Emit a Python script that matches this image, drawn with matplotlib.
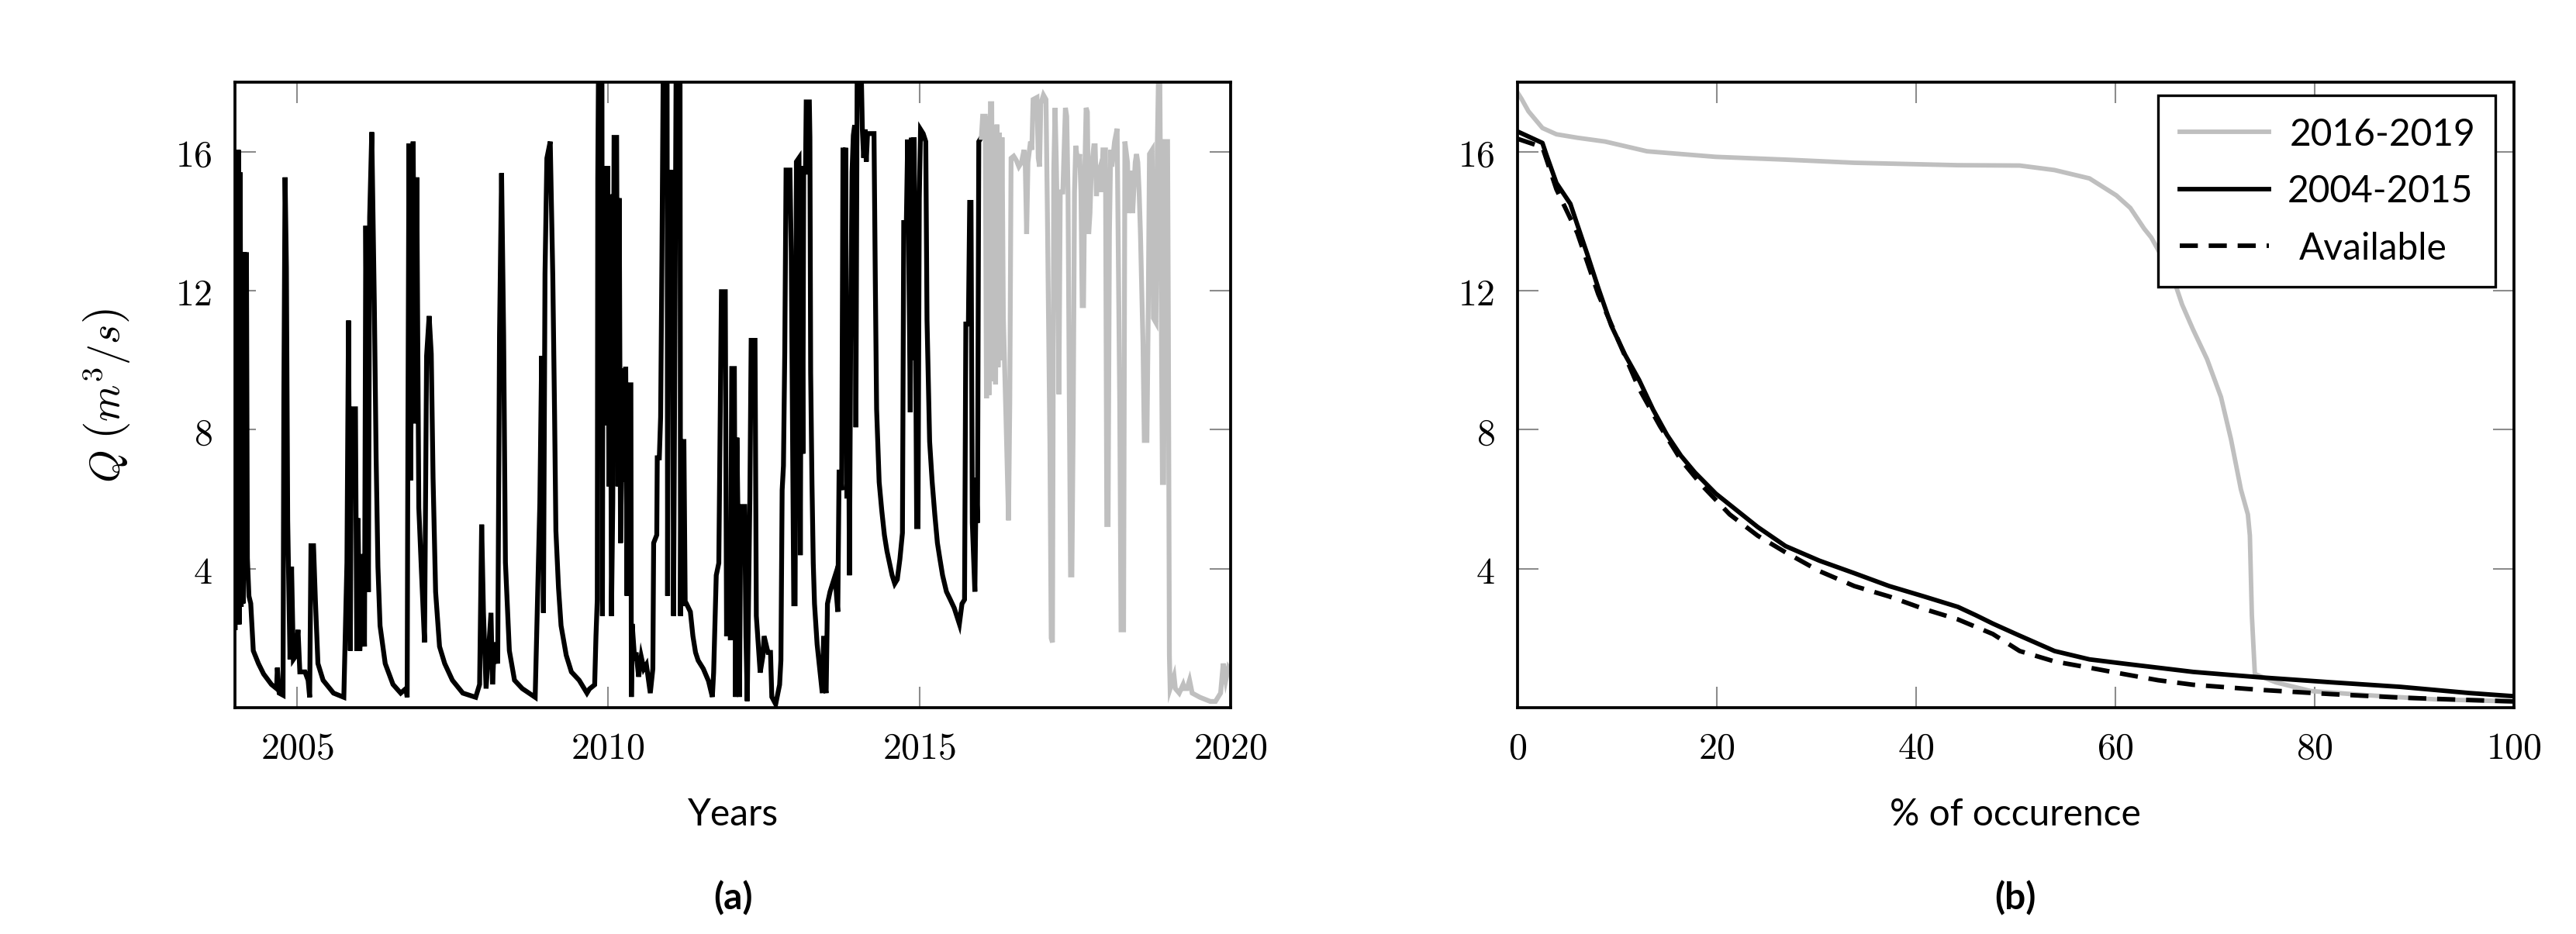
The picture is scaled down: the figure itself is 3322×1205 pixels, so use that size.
import matplotlib
matplotlib.use('Agg')
import matplotlib.pyplot as plt

# (a) daily discharge, decimal years vs m3/s
obs_year = [2004.004, 2004.025, 2004.040, 2004.055, 2004.070, 2004.085, 2004.100, 2004.115, 2004.130, 2004.150,
            2004.170, 2004.185, 2004.200, 2004.225, 2004.254, 2004.295, 2004.378, 2004.461, 2004.586, 2004.669,
            2004.682, 2004.711, 2004.773, 2004.786, 2004.806, 2004.827, 2004.848, 2004.885, 2004.910, 2004.939,
            2004.981, 2005.014, 2005.043, 2005.126, 2005.176, 2005.201, 2005.222, 2005.263, 2005.293, 2005.334,
            2005.417, 2005.584, 2005.750, 2005.800, 2005.825, 2005.854, 2005.874, 2005.937, 2005.958, 2005.978,
            2006.007, 2006.041, 2006.082, 2006.103, 2006.145, 2006.165, 2006.199, 2006.240, 2006.269, 2006.298,
            2006.332, 2006.415, 2006.540, 2006.664, 2006.747, 2006.768, 2006.780, 2006.797, 2006.822, 2006.864,
            2006.893, 2006.922, 2006.955, 2006.997, 2007.047, 2007.080, 2007.121, 2007.155, 2007.184, 2007.225,
            2007.288, 2007.371, 2007.495, 2007.662, 2007.869, 2007.932, 2007.965, 2007.994, 2008.036, 2008.115,
            2008.140, 2008.169, 2008.223, 2008.252, 2008.285, 2008.318, 2008.347, 2008.410, 2008.493, 2008.618,
            2008.825, 2008.900, 2008.929, 2008.958, 2008.983, 2009.013, 2009.067, 2009.108, 2009.137, 2009.158,
            2009.200, 2009.241, 2009.324, 2009.407, 2009.532, 2009.657,
            2009.698, 2009.781, 2009.802, 2009.823, 2009.831, 2009.843, 2009.898, 2009.906, 2009.914, 2009.927,
            2009.947, 2009.968, 2009.989, 2010.010, 2010.030, 2010.051, 2010.072, 2010.093, 2010.134, 2010.155,
            2010.176, 2010.197, 2010.218, 2010.238, 2010.259, 2010.280, 2010.301, 2010.321, 2010.363, 2010.371,
            2010.384, 2010.425, 2010.446, 2010.488, 2010.529, 2010.571, 2010.612, 2010.675, 2010.716, 2010.729,
            2010.779, 2010.787, 2010.820, 2010.841, 2010.862, 2010.883, 2010.945, 2010.953, 2010.966, 2011.007,
            2011.028, 2011.049, 2011.070, 2011.090, 2011.153, 2011.161, 2011.173, 2011.215, 2011.236, 2011.257,
            2011.319, 2011.360, 2011.402, 2011.444, 2011.527, 2011.610, 2011.672, 2011.693, 2011.735, 2011.776,
            2011.818, 2011.880, 2011.901, 2011.942, 2011.963, 2011.984, 2012.026, 2012.046, 2012.067, 2012.088,
            2012.109, 2012.129, 2012.192, 2012.212, 2012.233, 2012.275, 2012.296, 2012.358, 2012.379, 2012.441,
            2012.483, 2012.504, 2012.566, 2012.607, 2012.628, 2012.690, 2012.753, 2012.774, 2012.794, 2012.815,
            2012.836, 2012.857, 2012.919, 2012.940, 2012.981, 2013.002, 2013.023, 2013.065,
            2013.086, 2013.107, 2013.127, 2013.140, 2013.169, 2013.181, 2013.231, 2013.240, 2013.252, 2013.273,
            2013.294, 2013.314, 2013.356, 2013.398, 2013.439, 2013.460, 2013.481, 2013.501, 2013.522, 2013.564,
            2013.605, 2013.647, 2013.668, 2013.688, 2013.709, 2013.730, 2013.751, 2013.772, 2013.792, 2013.813,
            2013.834, 2013.855, 2013.875, 2013.896, 2013.917, 2013.938, 2013.959, 2013.979, 2014.000, 2014.063,
            2014.083, 2014.104, 2014.125, 2014.146, 2014.166, 2014.270, 2014.291, 2014.312, 2014.353, 2014.395,
            2014.437, 2014.478, 2014.520, 2014.561, 2014.603, 2014.644, 2014.686, 2014.727, 2014.748, 2014.790,
            2014.811, 2014.853, 2014.873, 2014.894, 2014.915, 2014.935, 2014.956, 2014.977, 2014.998, 2015.018,
            2015.060, 2015.102, 2015.122, 2015.164, 2015.205, 2015.247, 2015.289, 2015.330, 2015.372, 2015.434,
            2015.496, 2015.559, 2015.600, 2015.642, 2015.684, 2015.725, 2015.746, 2015.787, 2015.808, 2015.829,
            2015.850, 2015.891, 2015.912, 2015.933, 2015.954, 2015.974, 2015.995]
obs_q = [2.30, 16.0, 2.40, 16.05, 2.40, 15.4, 2.90, 13.1, 3.00, 13.1,
         6.70, 13.1, 4.30, 3.21, 3.00, 1.64, 1.27, 0.97, 0.67, 0.55,
         1.15, 0.42, 0.36, 8.90, 15.26, 12.66, 5.39, 1.39, 4.06, 1.39,
         1.50, 2.24, 1.03, 1.03, 0.79, 0.30, 4.66, 4.66, 3.09, 1.27,
         0.79, 0.42, 0.30, 4.18, 11.14, 1.64, 8.60, 8.60, 1.64, 5.45,
         1.64, 4.42, 1.76, 13.87, 3.33, 14.11, 16.56, 11.63, 7.21, 4.06,
         2.36, 1.27, 0.67, 0.42, 0.55, 0.30, 8.00, 16.23, 6.54, 16.29,
         8.18, 15.26, 5.75, 3.94, 1.88, 10.12, 11.27, 10.18, 6.60, 3.33,
         1.76, 1.27, 0.79, 0.42, 0.30, 0.67, 5.27, 2.73, 0.55, 2.73,
         0.67, 1.88, 1.27, 10.72, 15.38, 10.72, 4.18, 1.64, 0.79, 0.55,
         0.30, 5.88, 10.12, 2.73, 12.48, 15.81, 16.29, 12.42, 8.42, 5.09,
         3.45, 2.36, 1.51, 1.03, 0.79, 0.42,
         0.54, 0.66, 2.06, 3.11, 15.24, 18.5, 18.5, 2.64, 12.56, 8.12,
         15.59, 10.46, 15.59, 6.37, 14.77, 2.64, 5.91, 16.41, 16.41, 6.37,
         14.66, 4.74, 7.66, 9.76, 6.50, 9.81, 3.22, 9.29, 9.29, 0.31,
         2.41, 1.36, 1.59, 0.89, 1.47, 1.12, 1.24, 0.42, 1.12, 4.74,
         4.97, 7.19, 7.19, 8.36, 12.91, 18.5, 18.5, 3.22, 15.01, 15.47,
         14.66, 2.64, 10.46, 18.5, 18.5, 2.64, 7.66, 7.66, 2.99, 2.99,
         2.76, 2.06, 1.59, 1.36, 1.12, 0.77, 0.31, 1.01, 3.81, 4.16,
         11.97, 11.97, 2.06, 4.51, 1.94, 9.76, 9.76, 0.31, 7.77, 4.97,
         0.31, 5.79, 5.79, 2.06, 0.19, 6.02, 10.57, 10.57, 2.64, 1.01,
         1.47, 2.06, 1.59, 1.59, 0.31, 0.10, 0.66, 1.36, 6.26, 6.96,
         10.22, 15.47, 15.47, 13.14, 2.99, 2.99, 15.71, 15.82,
         4.39, 15.59, 7.31, 15.41, 15.41, 17.43, 17.43, 16.41, 9.64, 6.49,
         4.16, 2.99, 1.82, 1.12, 0.42, 2.06, 0.66, 0.42, 2.99, 3.34,
         3.57, 3.81, 3.22, 2.76, 6.78, 6.78, 6.26, 16.11, 8.00, 16.11,
         6.02, 11.16, 3.81, 11.04, 15.41, 16.47, 16.76, 8.07, 18.5, 18.5,
         16.64, 15.82, 16.64, 15.71, 16.52, 16.52, 12.32, 8.59, 6.49, 5.67,
         4.97, 4.51, 4.16, 3.81, 3.57, 3.69, 4.27, 5.03, 13.96, 13.96,
         16.35, 8.50, 16.40, 10.00, 16.41, 11.86, 5.21, 5.21, 14.66, 16.64,
         16.52, 16.29, 11.16, 7.66, 6.49, 5.56, 4.74, 4.27, 3.81, 3.34,
         3.11, 2.87, 2.64, 2.41, 2.99, 3.11, 11.04, 11.04, 14.54, 14.54,
         5.32, 3.34, 6.61, 5.32, 16.29, 16.35, 16.41]

new_year = [2015.995, 2016.016, 2016.058, 2016.078, 2016.099, 2016.120, 2016.141, 2016.162, 2016.182, 2016.203,
            2016.224, 2016.245, 2016.265, 2016.286, 2016.307, 2016.328, 2016.349, 2016.390, 2016.432, 2016.452,
            2016.473, 2016.515, 2016.557, 2016.598, 2016.640, 2016.681, 2016.702, 2016.723, 2016.744, 2016.785,
            2016.806, 2016.827, 2016.889, 2016.910, 2016.931, 2016.951, 2016.993, 2017.034, 2017.055, 2017.076,
            2017.097, 2017.118, 2017.138, 2017.159, 2017.180, 2017.201, 2017.222, 2017.242, 2017.263, 2017.305,
            2017.325, 2017.346, 2017.367, 2017.388, 2017.409, 2017.429, 2017.450, 2017.471, 2017.492, 2017.512,
            2017.554, 2017.575, 2017.596, 2017.616, 2017.637, 2017.658, 2017.679, 2017.699, 2017.720, 2017.741,
            2017.762, 2017.803, 2017.824, 2017.845, 2017.866, 2017.907, 2017.928, 2017.949, 2017.990, 2018.011,
            2018.032, 2018.053, 2018.074, 2018.094, 2018.136, 2018.177, 2018.219, 2018.240, 2018.281, 2018.302,
            2018.344, 2018.364, 2018.385, 2018.406, 2018.427, 2018.468, 2018.489, 2018.510, 2018.531, 2018.552,
            2018.593, 2018.614, 2018.656, 2018.676, 2018.697, 2018.739, 2018.760, 2018.801, 2018.822, 2018.842,
            2018.863, 2018.884, 2018.905, 2018.925, 2018.946, 2018.988, 2019.000, 2019.017, 2019.029, 2019.092,
            2019.113, 2019.175, 2019.238, 2019.258, 2019.300, 2019.341, 2019.383, 2019.507, 2019.674, 2019.757,
            2019.840, 2019.882, 2019.923, 2019.965, 2020.006]
new_q = [16.41, 17.02, 17.02, 8.90, 17.02, 9.00, 17.38, 17.38, 9.39, 16.66,
         9.30, 16.78, 9.80, 16.54, 10.00, 16.41, 11.21, 8.42, 5.39, 8.78,
         15.81, 15.87, 15.75, 15.57, 15.69, 16.05, 15.57, 13.63, 15.69, 16.29,
         16.05, 17.50, 17.56, 15.81, 15.57, 17.38, 17.63, 17.50, 14.48, 10.96,
         7.57, 2.00, 1.88, 15.45, 17.26, 15.57, 13.39, 9.02, 14.84, 14.84,
         16.05, 17.26, 17.02, 14.84, 8.78, 3.82, 3.82, 8.18, 14.84, 16.17,
         15.57, 15.93, 14.84, 11.57, 11.57, 15.45, 17.26, 17.14, 13.63, 14.23,
         15.45, 16.17, 16.17, 14.72, 15.32, 15.57, 14.84, 16.05, 16.05, 5.27,
         5.27, 13.63, 16.05, 15.57, 16.29, 16.66, 8.78, 2.24, 2.24, 16.29,
         15.69, 14.23, 14.84, 15.45, 14.23, 15.69, 15.93, 15.69, 14.84, 13.63,
         10.48, 7.69, 7.69, 11.21, 15.93, 16.05, 11.21, 11.08, 16.05, 18.2,
         18.2, 12.17, 6.48, 6.48, 16.29, 16.29, 11.21, 1.51, 0.55, 0.91,
         0.55, 0.42, 0.67, 0.55, 0.55, 0.79, 0.42, 0.30, 0.18, 0.18,
         0.42, 1.27, 0.79, 1.15, 1.03]

# (b) flow duration curves: % of time exceeded vs m3/s
fdc_pct_new = [0, 0.4, 1.1, 2.5, 3.9, 6.0, 8.8, 13.0, 19.9, 26.9, 33.8, 44.2, 50.4, 53.9, 57.4, 60.1, 61.5,
               62.9, 63.6, 65.7, 66.7, 67.8, 69.2, 70.6, 71.6, 72.6, 73.3, 73.5, 73.7, 74.0, 76.1, 79.6, 85.2,
               92.1, 100]
fdc_q_new = [17.7, 17.52, 17.16, 16.68, 16.5, 16.4, 16.29, 16.01, 15.85, 15.77, 15.68, 15.61, 15.6, 15.47,
             15.23, 14.74, 14.38, 13.78, 13.53, 12.45, 11.6, 10.88, 10.03, 8.94, 7.73, 6.28, 5.56, 4.95, 2.66,
             0.97, 0.73, 0.48, 0.36, 0.24, 0.18]
fdc_pct_obs = [0, 2.5, 2.85, 3.9, 5.3, 6.0, 7.0, 8.1, 9.4, 10.8, 12.2, 13.6, 15.0, 16.4, 17.8, 19.9, 22.0,
               24.1, 26.9, 30.3, 33.8, 37.3, 40.8, 44.2, 46.0, 47.7, 50.1, 53.9, 57.4, 60.8, 64.3, 67.8, 71.2,
               74.7, 81.7, 88.6, 95.6, 100]
fdc_q_obs = [16.58, 16.25, 15.95, 15.1, 14.5, 13.9, 13.05, 12.08, 11.0, 10.15, 9.43, 8.58, 7.85, 7.25, 6.77,
             6.16, 5.68, 5.2, 4.65, 4.23, 3.87, 3.5, 3.2, 2.9, 2.66, 2.42, 2.11, 1.63, 1.39, 1.27, 1.15, 1.03,
             0.95, 0.87, 0.73, 0.6, 0.42, 0.33]
fdc_pct_avail = [0, 2.5, 3.9, 6.0, 8.1, 10.2, 12.2, 14.3, 16.4, 18.5, 21.3, 24.1, 26.9, 30.3, 33.8, 37.3,
                 40.8, 44.2, 47.7, 50.4, 53.9, 57.4, 60.8, 64.3, 67.8, 74.7, 81.7, 88.6, 95.6, 100]
fdc_q_avail = [16.37, 16.13, 14.92, 13.66, 11.9, 10.51, 9.18, 8.1, 7.13, 6.4, 5.56, 4.95, 4.47, 3.93, 3.5,
               3.2, 2.84, 2.54, 2.12, 1.63, 1.33, 1.15, 0.97, 0.79, 0.66, 0.51, 0.39, 0.29, 0.22, 0.18]

year_ticks = [2005, 2010, 2015, 2020]
pct_ticks = [0, 20, 40, 60, 80, 100]
q_ticks = [4, 8, 12, 16]
series_labels = ['2016-2019', '2004-2015', 'Available']

GREY = '#bfbfbf'

plt.rcParams['font.family'] = ['Lato', 'DejaVu Sans']
plt.rcParams['mathtext.fontset'] = 'cm'

fig = plt.figure(figsize=(3322 / 300, 1206 / 300), dpi=300)
ax1 = fig.add_axes([0.0912, 0.2421, 0.3865, 0.6692])
ax2 = fig.add_axes([0.5891, 0.2421, 0.3868, 0.6692])

ax1.plot(obs_year, obs_q, color='black', lw=1.5, solid_joinstyle='miter')
ax1.plot(new_year, new_q, color=GREY, lw=1.5, solid_joinstyle='miter')
ax1.set_xlim(2004, 2020)
ax1.set_ylim(0, 18)
ax1.set_xticks(year_ticks, ['$%d$' % t for t in year_ticks])

ax2.plot(fdc_pct_new, fdc_q_new, color=GREY, lw=1.4, label=series_labels[0])
ax2.plot(fdc_pct_obs, fdc_q_obs, color='black', lw=1.4, label=series_labels[1])
ax2.plot(fdc_pct_avail, fdc_q_avail, color='black', lw=1.4, dashes=(4, 2.4), label=series_labels[2])
ax2.set_xlim(0, 100)
ax2.set_ylim(0, 18)
ax2.set_xticks(pct_ticks, ['$%d$' % t for t in pct_ticks])

for ax in (ax1, ax2):
    ax.set_yticks(q_ticks, ['$%d$' % t for t in q_ticks])
    ax.tick_params(direction='in', length=6.5, width=0.5, color='0.55', top=True, right=True,
                   labelsize=11.5, pad=7)
    for s in ax.spines.values():
        s.set_linewidth(0.9)

leg = ax2.legend(loc='upper right', bbox_to_anchor=(0.981, 0.979), borderaxespad=0, fontsize=11.5,
                 frameon=True, fancybox=False, framealpha=1, edgecolor='black',
                 handlelength=2.4, handletextpad=0.5, labelspacing=0.62, borderpad=0.58)
leg.get_frame().set_linewidth(0.8)
# labels are centred in the reference legend
texts = leg.get_texts()
texts[0].set_x(3)
texts[2].set_x(15)

fig.text(0.0415, 0.5767, r'$Q\;\left(m^3/s\right)$', rotation=90, ha='center', va='center', fontsize=13)
fig.text(0.2845, 0.1285, 'Years', ha='center', va='center', fontsize=11.5)
fig.text(0.7824, 0.1285, '% of occurence', ha='center', va='center', fontsize=11.5)
fig.text(0.2845, 0.039, '(a)', ha='center', va='center', fontsize=11.5, fontweight='bold')
fig.text(0.7824, 0.039, '(b)', ha='center', va='center', fontsize=11.5, fontweight='bold')

fig.savefig('out.png', dpi=300)
